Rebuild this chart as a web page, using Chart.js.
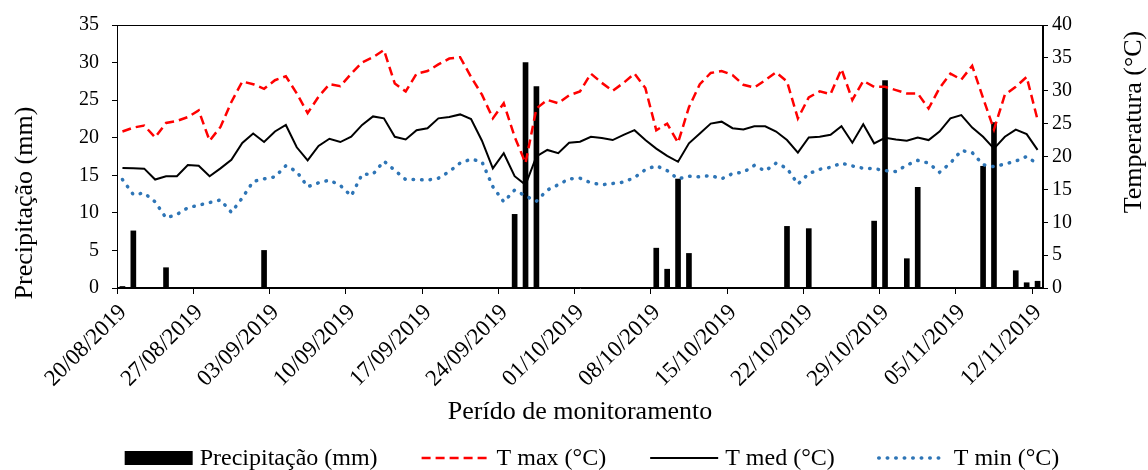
<!DOCTYPE html>
<html>
<head>
<meta charset="utf-8">
<script src="https://cdn.jsdelivr.net/npm/chart.js@4.4.1/dist/chart.umd.min.js"></script>
<style>
  html, body { margin: 0; padding: 0; background: #fff; }
  #wrap { width: 1148px; height: 470px; position: relative; }
</style>
</head>
<body>
<div id="wrap"><canvas id="grafico"></canvas></div>
<script>
// Precipitação diária e temperaturas, 20/08/2019 a 12/11/2019 (85 dias)
const FONT = "'Liberation Serif', 'Times New Roman', serif";

const tickLabels = ["20/08/2019", "27/08/2019", "03/09/2019", "10/09/2019", "17/09/2019", "24/09/2019",
  "01/10/2019", "08/10/2019", "15/10/2019", "22/10/2019", "29/10/2019", "05/11/2019", "12/11/2019"];

const precipitacao = [
  0.2, 7.6, 0, 0, 2.7, 0, 0, 0, 0, 0,
  0, 0, 0, 5.0, 0, 0, 0, 0, 0, 0,
  0, 0, 0, 0, 0, 0, 0, 0, 0, 0,
  0, 0, 0, 0, 0, 0, 9.8, 30.0, 26.8, 0,
  0, 0, 0, 0, 0, 0, 0, 0, 0, 5.3,
  2.5, 14.5, 4.6, 0, 0, 0, 0, 0, 0, 0,
  0, 8.2, 0, 7.9, 0, 0, 0, 0, 0, 8.9,
  27.6, 0, 3.9, 13.4, 0, 0, 0, 0, 0, 16.2,
  22.0, 0, 2.3, 0.7, 0.9
];

const tMax = [
  23.8, 24.4, 24.7, 22.9, 25.1, 25.4, 26.0, 27.0, 22.4, 24.5,
  28.3, 31.4, 31.0, 30.3, 31.6, 32.2, 29.6, 26.6, 29.1, 31.0,
  30.7, 32.6, 34.3, 35.1, 36.2, 31.1, 29.9, 32.6, 33.0, 34.0,
  34.9, 35.1, 32.1, 29.4, 25.8, 28.1, 23.0, 19.0, 27.3, 28.6,
  28.1, 29.3, 29.9, 32.6, 31.2, 30.0, 31.2, 32.6, 30.4, 24.0,
  25.0, 22.1, 27.5, 31.0, 32.7, 33.0, 32.4, 30.9, 30.5, 31.6,
  32.8, 31.4, 25.8, 29.0, 29.9, 29.5, 33.3, 28.6, 31.5, 30.6,
  30.6, 30.1, 29.6, 29.6, 27.3, 30.4, 32.6, 31.7, 33.8, 28.9,
  24.1, 29.4, 30.6, 32.1, 25.6
];

const tMed = [
  18.25, 18.2, 18.15, 16.5, 17.0, 17.0, 18.7, 18.6, 17.0, 18.2,
  19.5, 22.05, 23.5, 22.2, 23.8, 24.8, 21.4, 19.4, 21.6, 22.7,
  22.2, 23.0, 24.8, 26.1, 25.8, 23.0, 22.6, 24.0, 24.3, 25.8,
  26.0, 26.4, 25.7, 22.4, 18.2, 20.5, 17.0, 15.7, 20.0, 21.0,
  20.5, 22.1, 22.25, 23.0, 22.8, 22.5, 23.3, 24.0, 22.5, 21.2,
  20.1, 19.2, 22.0, 23.5, 25.0, 25.3, 24.3, 24.1, 24.6, 24.6,
  23.8, 22.5, 20.6, 22.9, 23.0, 23.3, 24.6, 22.1, 24.9, 22.0,
  22.85, 22.6, 22.4, 22.9, 22.5, 23.8, 25.8, 26.3, 24.4, 23.0,
  21.2, 23.0, 24.1, 23.4, 21.0
];

const tMin = [
  16.5, 14.2, 14.45, 13.1, 10.65, 11.2, 12.2, 12.6, 13.0, 13.4,
  11.5, 13.7, 16.2, 16.6, 16.9, 18.6, 17.7, 15.4, 16.0, 16.4,
  15.6, 14.0, 17.3, 17.3, 19.3, 17.9, 16.5, 16.5, 16.4, 16.7,
  17.7, 19.0, 19.6, 19.2, 15.4, 13.1, 14.9, 14.0, 13.2, 14.9,
  15.7, 16.6, 16.7, 16.0, 15.7, 15.9, 16.1, 16.8, 18.0, 18.6,
  17.85, 16.6, 17.0, 16.9, 17.1, 16.6, 17.4, 17.6, 18.65, 17.8,
  19.0, 18.2, 15.8, 17.4, 18.05, 18.35, 19.0, 18.55, 18.2, 18.15,
  17.85, 17.7, 18.7, 19.4, 19.0, 17.6, 19.0, 20.9, 20.6, 18.75,
  18.45, 18.85, 19.3, 20.0, 18.85
];

// each day sits in the middle of its slot on the date axis
function pts(arr){ return arr.map((v, i) => ({ x: i + 0.5, y: v })); }

function vtext(ctx, txt, x, y){
  ctx.save();
  ctx.translate(x, y);
  ctx.rotate(-Math.PI / 2);
  ctx.fillText(txt, 0, 0);
  ctx.restore();
}

// frame, y titles (Excel style, bottom-to-top) and legend
const extras = {
  id: "extras",
  afterDraw(chart){
    const ctx = chart.ctx, a = chart.chartArea;
    ctx.save();
    ctx.strokeStyle = "#000";
    ctx.lineWidth = 1;
    ctx.strokeRect(Math.round(a.left) + 0.5, Math.round(a.top) + 0.5,
      Math.round(a.right - a.left) - 1, Math.round(a.bottom - a.top) - 1);

    ctx.fillStyle = "#000";
    ctx.font = "26px " + FONT;
    ctx.textAlign = "center";
    ctx.textBaseline = "middle";
    vtext(ctx, "Precipitação (mm)", 25, 203);
    vtext(ctx, "Temperatura (°C)", 1134, 122);

    ctx.font = "24px " + FONT;
    const SAMPLE = 68, GAP = 7, SEP = 44, cy = 458;
    const items = chart.data.datasets.map(ds => ({ ds, w: ctx.measureText(ds.label).width }));
    const total = items.reduce((s, it) => s + SAMPLE + GAP + it.w, 0) + SEP * (items.length - 1);
    let x = 592 - total / 2;
    items.forEach(({ ds, w }) => {
      if (ds.type === "bar"){
        ctx.fillStyle = ds.backgroundColor;
        ctx.fillRect(x, cy - 7, SAMPLE, 14);
      } else {
        ctx.beginPath();
        ctx.strokeStyle = ds.borderColor;
        ctx.lineWidth = ds.borderWidth;
        ctx.setLineDash(ds.borderDash || []);
        ctx.lineCap = ds.borderCapStyle || "butt";
        ctx.moveTo(x, cy);
        ctx.lineTo(x + SAMPLE, cy);
        ctx.stroke();
        ctx.setLineDash([]);
      }
      ctx.fillStyle = "#000";
      ctx.textAlign = "left";
      ctx.fillText(ds.label, x + SAMPLE + GAP, cy + 1);
      x += SAMPLE + GAP + w + SEP;
    });
    ctx.restore();
  }
};

const tickFont = { family: FONT, size: 20 };

new Chart(document.getElementById("grafico"), {
  data: {
    datasets: [
      { type: "bar", label: "Precipitação (mm)", data: pts(precipitacao), yAxisID: "y",
        backgroundColor: "#000", barThickness: 5, order: 2 },
      { type: "line", label: "T max (°C)", data: pts(tMax), yAxisID: "y1",
        borderColor: "#FF0000", borderWidth: 2.5, borderDash: [9, 5], pointRadius: 0, tension: 0, order: 1 },
      { type: "line", label: "T med (°C)", data: pts(tMed), yAxisID: "y1",
        borderColor: "#000", borderWidth: 2, pointRadius: 0, tension: 0, order: 1 },
      { type: "line", label: "T min (°C)", data: pts(tMin), yAxisID: "y1",
        borderColor: "#2E75B6", borderWidth: 3.5, borderDash: [0.5, 8], borderCapStyle: "round",
        pointRadius: 0, tension: 0, order: 1 }
    ]
  },
  options: {
    responsive: true,
    maintainAspectRatio: false,
    animation: false,
    layout: { padding: { left: 0, right: 0, top: 25, bottom: 42 } },
    plugins: { legend: { display: false }, tooltip: { enabled: false } },
    scales: {
      x: {
        type: "linear", min: 0, max: 85, offset: false,
        afterBuildTicks: s => { s.ticks = tickLabels.map((_, k) => ({ value: k * 7 })); },
        afterFit: s => { s.height = 140; },
        ticks: { callback: (v, i) => tickLabels[i], minRotation: 45, maxRotation: 45, autoSkip: false,
          font: { family: FONT, size: 23 }, color: "#000", labelOffset: 6, padding: 5 },
        grid: { offset: false, drawOnChartArea: false, drawTicks: true, tickLength: 6, tickColor: "#000" },
        border: { color: "#000", width: 1 },
        title: { display: true, text: "Perído de monitoramento", font: { family: FONT, size: 26 },
          color: "#000", padding: 0 }
      },
      y: {
        position: "left", min: 0, max: 35,
        afterFit: s => { s.width = 117; },
        ticks: { stepSize: 5, font: tickFont, color: "#000", padding: 13 },
        grid: { drawOnChartArea: false, drawTicks: true, tickLength: 5, tickColor: "#000" },
        border: { color: "#000", width: 1 }
      },
      y1: {
        position: "right", min: 0, max: 40,
        afterFit: s => { s.width = 105; },
        ticks: { stepSize: 5, font: tickFont, color: "#000", padding: 4 },
        grid: { drawOnChartArea: false, drawTicks: true, tickLength: 5, tickColor: "#000" },
        border: { color: "#000", width: 1 }
      }
    }
  },
  plugins: [extras]
});
</script>
</body>
</html>
